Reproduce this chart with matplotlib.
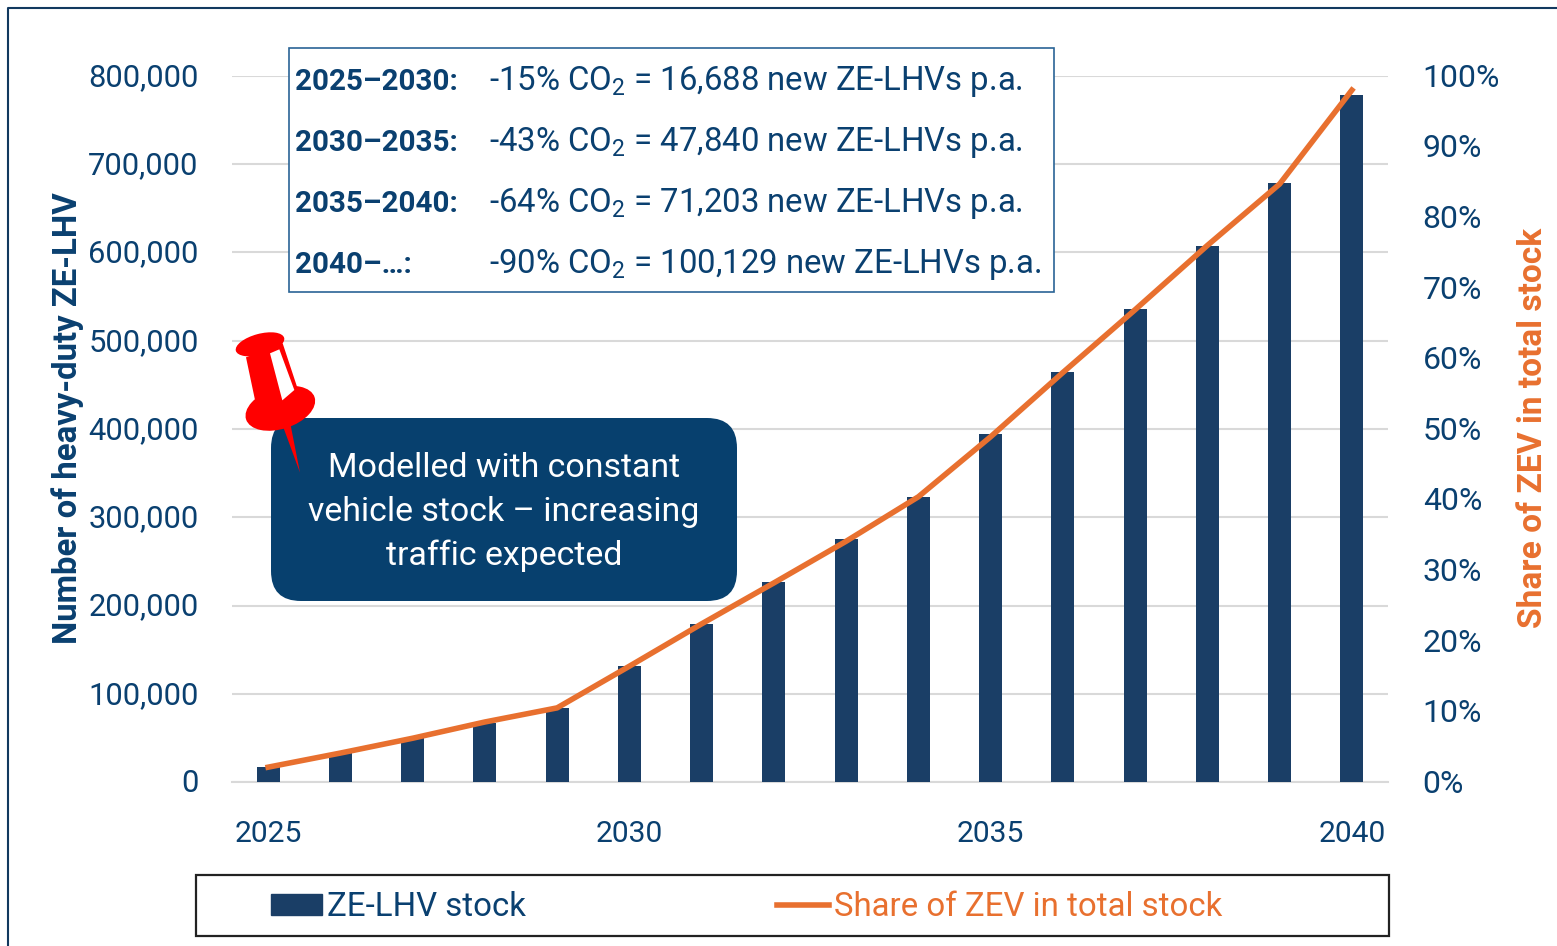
import matplotlib
matplotlib.use('Agg')
import matplotlib.pyplot as plt
from matplotlib.patches import Rectangle, FancyBboxPatch, Polygon, Ellipse, Patch
from matplotlib.lines import Line2D
from matplotlib.ticker import FuncFormatter, FixedLocator
from matplotlib.transforms import Affine2D

years = list(range(2025, 2041))
stock = [16688, 33376, 50064, 66752, 83440, 131280, 179120, 226960, 274800, 322640,
         393843, 465046, 536249, 607452, 678655, 778784]
share = [2.1, 4.1, 6.2, 8.5, 10.5, 16.4, 22.4, 28.2, 34.1, 40.4, 48.9, 58.0, 66.9, 76.0, 84.7, 98.0]
left_ticks = [0, 100000, 200000, 300000, 400000, 500000, 600000, 700000, 800000]
right_ticks = [0, 10, 20, 30, 40, 50, 60, 70, 80, 90, 100]
year_ticks = [2025, 2030, 2035, 2040]
box_periods = ['2025–2030:', '2030–2035:', '2035–2040:', '2040–…:']
box_texts = ['-15% CO$_2$ = 16,688 new ZE-LHVs p.a.', '-43% CO$_2$ = 47,840 new ZE-LHVs p.a.',
             '-64% CO$_2$ = 71,203 new ZE-LHVs p.a.', '-90% CO$_2$ = 100,129 new ZE-LHVs p.a.']
callout = 'Modelled with constant\nvehicle stock – increasing\ntraffic expected'

plt.rcParams['font.family'] = ['Roboto', 'DejaVu Sans']
plt.rcParams['mathtext.default'] = 'regular'

NAVY = '#0a4070'; BAR = '#1a3e66'; ORANGE = '#e8702f'; GRID = '#d9d9d9'
W, H = 1557, 946
fig = plt.figure(figsize=(W/100, H/100), dpi=100)
px = Affine2D().scale(1, -1).translate(0, H)  # reference-style pixel positions for annotations

L, R, T, B = 232, 1388, 76, 782
ax = fig.add_axes([L/W, 1-B/H, (R-L)/W, (B-T)/H])
ax.bar(years, stock, width=0.32, color=BAR, zorder=3)
ax.set_xlim(2024.5, 2040.5); ax.set_ylim(0, 800000)
ax.yaxis.set_major_locator(FixedLocator(left_ticks))
ax.yaxis.set_major_formatter(FuncFormatter(lambda v, _: f'{int(v):,}'))
ax.xaxis.set_major_locator(FixedLocator(year_ticks))
ax.grid(axis='y', color=GRID, lw=1.5, zorder=0); ax.set_axisbelow(True)
ax.tick_params(axis='y', length=0, labelsize=22.2, labelcolor=NAVY, pad=24)
ax.tick_params(axis='x', length=0, labelsize=21.6, labelcolor=NAVY, pad=27)
for s in ax.spines.values(): s.set_visible(False)
ax.spines['bottom'].set_visible(True); ax.spines['bottom'].set_color(GRID); ax.spines['bottom'].set_linewidth(1.5)

ax2 = ax.twinx()
ax2.plot(years, share, color=ORANGE, lw=4, zorder=5, solid_joinstyle='round')
ax2.set_ylim(0, 100)
ax2.yaxis.set_major_locator(FixedLocator(right_ticks))
ax2.yaxis.set_major_formatter(FuncFormatter(lambda v, _: f'{int(v)}%'))
ax2.tick_params(axis='y', length=0, labelsize=23, labelcolor=NAVY, pad=25)
for s in ax2.spines.values(): s.set_visible(False)

# nudge the value labels up slightly
up = Affine2D().translate(0, 1.5)
for t in ax.yaxis.get_major_ticks():
    t.label1.set_transform(t.label1.get_transform() + up)
for t in ax2.yaxis.get_major_ticks():
    t.label2.set_transform(t.label2.get_transform() + Affine2D().translate(0, 0.7))

fig.text(68/W, 1-418/H, 'Number of heavy-duty ZE-LHV', rotation=90, color=NAVY, fontsize=23.7,
         fontweight='bold', ha='center', va='center')
fig.text(1533/W, 1-428/H, 'Share of ZEV in total stock', rotation=90, color=ORANGE, fontsize=24.1,
         fontweight='bold', ha='center', va='center')

# outer frame
fig.add_artist(Line2D([8, 8, W], [H, 8, 8], transform=px, color='#12395f', lw=1.5))

# info box
fig.add_artist(Rectangle((289, 48), 765, 244, transform=px, fc='white', ec='#2a6496', lw=1.2, zorder=6))
for i, (p, t) in enumerate(zip(box_periods, box_texts)):
    y = 90 + i*61
    fig.text(295/W, 1-y/H, p, color=NAVY, fontsize=21.3, fontweight='bold', va='baseline', zorder=7)
    fig.text(489/W, 1-y/H, t, color=NAVY, fontsize=23.7, va='baseline', zorder=7)

# callout
fig.add_artist(FancyBboxPatch((301, 448), 406, 123, boxstyle='round,pad=30,rounding_size=30', transform=px,
                              fc='#07406e', ec='none', zorder=6))
fig.text(504/W, 1-512/H, callout, color='white', fontsize=24.4, ha='center', va='center',
         linespacing=1.47, zorder=7)

# pin
Z = lambda x, y: (220 + x/3, 320 + y/3)
red = '#ff0000'
for pts in ([(78, 112), (188, 70), (231, 200), (105, 240)], [(190, 322), (212, 316), (240, 458)]):
    fig.add_artist(Polygon([Z(*q) for q in pts], transform=px, fc=red, ec='none', zorder=8))
fig.add_artist(Ellipse(Z(120, 73), 50, 21, angle=-15, transform=px, fc=red, ec='none', zorder=8))
fig.add_artist(Ellipse(Z(181, 265), 72, 41, angle=-18, transform=px, fc=red, ec='none', zorder=8))
fig.add_artist(Polygon([Z(*q) for q in [(150, 100), (178, 88), (223, 210), (187, 241)]], transform=px,
                       fc='white', ec='none', zorder=9))

# legend
fig.add_artist(Rectangle((196, 875), 1193, 61, transform=px, fc='white', ec='#222222', lw=1.6, zorder=1))
leg = fig.legend(handles=[Patch(color=BAR, label='ZE-LHV stock'), Line2D([], [], color=ORANGE, lw=4, label='Share of ZEV in total stock')],
                 loc='center left', bbox_to_anchor=(271/W, 1-907/H), bbox_transform=fig.transFigure,
                 ncols=2, frameon=False, fontsize=23.8, handlelength=1.55, handleheight=0.6,
                 handletextpad=0.15, columnspacing=7.6, borderpad=0, borderaxespad=0,
                 labelcolor=[NAVY, ORANGE])
leg.set_zorder(3)

fig.savefig('out.png', dpi=100)
